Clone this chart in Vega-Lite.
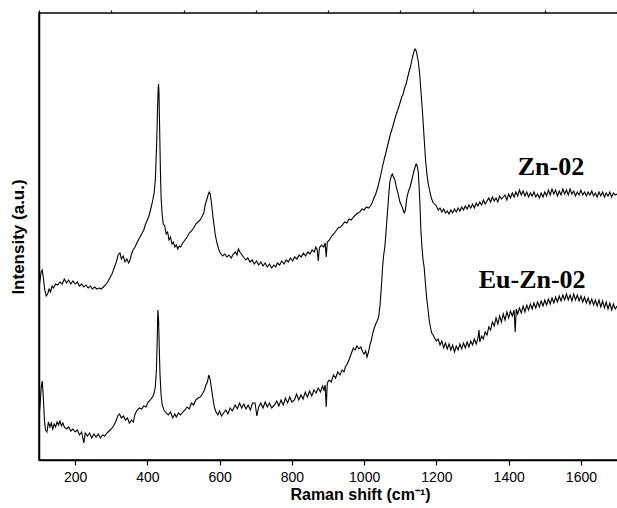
{
"$schema": "https://vega.github.io/schema/vega-lite/v6.json",
"width": 642, "height": 447,
"autosize": {"type": "none"},
"padding": {"left": 39, "top": 13, "right": 0, "bottom": 48},
"background": "white",
"config": {"view": {"stroke": "black", "strokeWidth": 1.5}},
"datasets": {
"spectra": [
{"s":"Zn-02","x":100,"y":173},{"s":"Zn-02","x":103,"y":180},{"s":"Zn-02","x":106,"y":188},{"s":"Zn-02","x":109,"y":190},{"s":"Zn-02","x":112,"y":182},{"s":"Zn-02","x":116,"y":170},{"s":"Zn-02","x":120,"y":164},{"s":"Zn-02","x":124,"y":166},{"s":"Zn-02","x":128,"y":171},{"s":"Zn-02","x":132,"y":168},{"s":"Zn-02","x":136,"y":174},{"s":"Zn-02","x":140,"y":172},{"s":"Zn-02","x":146,"y":176},{"s":"Zn-02","x":152,"y":175},{"s":"Zn-02","x":158,"y":178},{"s":"Zn-02","x":164,"y":176},{"s":"Zn-02","x":170,"y":181},{"s":"Zn-02","x":176,"y":177},{"s":"Zn-02","x":182,"y":180},{"s":"Zn-02","x":188,"y":176},{"s":"Zn-02","x":194,"y":179},{"s":"Zn-02","x":200,"y":176},{"s":"Zn-02","x":206,"y":178},{"s":"Zn-02","x":212,"y":174},{"s":"Zn-02","x":218,"y":176},{"s":"Zn-02","x":224,"y":173},{"s":"Zn-02","x":230,"y":175},{"s":"Zn-02","x":236,"y":172},{"s":"Zn-02","x":242,"y":174},{"s":"Zn-02","x":248,"y":171},{"s":"Zn-02","x":254,"y":173},{"s":"Zn-02","x":260,"y":171},{"s":"Zn-02","x":266,"y":172},{"s":"Zn-02","x":272,"y":171},{"s":"Zn-02","x":278,"y":173},{"s":"Zn-02","x":284,"y":175},{"s":"Zn-02","x":290,"y":178},{"s":"Zn-02","x":296,"y":182},{"s":"Zn-02","x":302,"y":186},{"s":"Zn-02","x":308,"y":192},{"s":"Zn-02","x":314,"y":198},{"s":"Zn-02","x":319,"y":205},{"s":"Zn-02","x":324,"y":207},{"s":"Zn-02","x":328,"y":201},{"s":"Zn-02","x":333,"y":204},{"s":"Zn-02","x":338,"y":198},{"s":"Zn-02","x":343,"y":201},{"s":"Zn-02","x":348,"y":197},{"s":"Zn-02","x":352,"y":200},{"s":"Zn-02","x":356,"y":206},{"s":"Zn-02","x":360,"y":210},{"s":"Zn-02","x":366,"y":213},{"s":"Zn-02","x":372,"y":218},{"s":"Zn-02","x":378,"y":222},{"s":"Zn-02","x":384,"y":226},{"s":"Zn-02","x":390,"y":230},{"s":"Zn-02","x":395,"y":236},{"s":"Zn-02","x":400,"y":240},{"s":"Zn-02","x":405,"y":245},{"s":"Zn-02","x":410,"y":252},{"s":"Zn-02","x":415,"y":260},{"s":"Zn-02","x":419,"y":268},{"s":"Zn-02","x":422,"y":280},{"s":"Zn-02","x":424,"y":300},{"s":"Zn-02","x":426,"y":320},{"s":"Zn-02","x":428,"y":350},{"s":"Zn-02","x":430,"y":372},{"s":"Zn-02","x":431,"y":376},{"s":"Zn-02","x":432,"y":368},{"s":"Zn-02","x":434,"y":330},{"s":"Zn-02","x":436,"y":290},{"s":"Zn-02","x":438,"y":262},{"s":"Zn-02","x":441,"y":245},{"s":"Zn-02","x":444,"y":236},{"s":"Zn-02","x":448,"y":234},{"s":"Zn-02","x":452,"y":226},{"s":"Zn-02","x":456,"y":228},{"s":"Zn-02","x":460,"y":220},{"s":"Zn-02","x":464,"y":223},{"s":"Zn-02","x":468,"y":216},{"s":"Zn-02","x":472,"y":218},{"s":"Zn-02","x":476,"y":213},{"s":"Zn-02","x":480,"y":215},{"s":"Zn-02","x":484,"y":211},{"s":"Zn-02","x":488,"y":214},{"s":"Zn-02","x":492,"y":213},{"s":"Zn-02","x":498,"y":217},{"s":"Zn-02","x":504,"y":220},{"s":"Zn-02","x":510,"y":223},{"s":"Zn-02","x":516,"y":227},{"s":"Zn-02","x":522,"y":229},{"s":"Zn-02","x":528,"y":232},{"s":"Zn-02","x":534,"y":236},{"s":"Zn-02","x":540,"y":238},{"s":"Zn-02","x":546,"y":240},{"s":"Zn-02","x":552,"y":244},{"s":"Zn-02","x":556,"y":247},{"s":"Zn-02","x":560,"y":255},{"s":"Zn-02","x":564,"y":260},{"s":"Zn-02","x":568,"y":265},{"s":"Zn-02","x":571,"y":268},{"s":"Zn-02","x":574,"y":266},{"s":"Zn-02","x":577,"y":258},{"s":"Zn-02","x":580,"y":248},{"s":"Zn-02","x":584,"y":236},{"s":"Zn-02","x":588,"y":225},{"s":"Zn-02","x":592,"y":218},{"s":"Zn-02","x":597,"y":211},{"s":"Zn-02","x":602,"y":207},{"s":"Zn-02","x":608,"y":204},{"s":"Zn-02","x":614,"y":206},{"s":"Zn-02","x":620,"y":203},{"s":"Zn-02","x":626,"y":205},{"s":"Zn-02","x":632,"y":202},{"s":"Zn-02","x":638,"y":206},{"s":"Zn-02","x":644,"y":208},{"s":"Zn-02","x":648,"y":205},{"s":"Zn-02","x":652,"y":211},{"s":"Zn-02","x":656,"y":208},{"s":"Zn-02","x":660,"y":206},{"s":"Zn-02","x":666,"y":203},{"s":"Zn-02","x":672,"y":200},{"s":"Zn-02","x":678,"y":202},{"s":"Zn-02","x":684,"y":198},{"s":"Zn-02","x":690,"y":200},{"s":"Zn-02","x":696,"y":196},{"s":"Zn-02","x":702,"y":199},{"s":"Zn-02","x":708,"y":195},{"s":"Zn-02","x":714,"y":198},{"s":"Zn-02","x":720,"y":194},{"s":"Zn-02","x":726,"y":197},{"s":"Zn-02","x":732,"y":193},{"s":"Zn-02","x":738,"y":196},{"s":"Zn-02","x":744,"y":192},{"s":"Zn-02","x":750,"y":195},{"s":"Zn-02","x":755,"y":193},{"s":"Zn-02","x":760,"y":197},{"s":"Zn-02","x":766,"y":195},{"s":"Zn-02","x":772,"y":199},{"s":"Zn-02","x":778,"y":196},{"s":"Zn-02","x":784,"y":200},{"s":"Zn-02","x":790,"y":198},{"s":"Zn-02","x":796,"y":202},{"s":"Zn-02","x":802,"y":199},{"s":"Zn-02","x":808,"y":203},{"s":"Zn-02","x":814,"y":201},{"s":"Zn-02","x":820,"y":205},{"s":"Zn-02","x":826,"y":203},{"s":"Zn-02","x":832,"y":207},{"s":"Zn-02","x":838,"y":204},{"s":"Zn-02","x":844,"y":208},{"s":"Zn-02","x":850,"y":206},{"s":"Zn-02","x":856,"y":210},{"s":"Zn-02","x":862,"y":208},{"s":"Zn-02","x":866,"y":213},{"s":"Zn-02","x":870,"y":210},{"s":"Zn-02","x":873,"y":199},{"s":"Zn-02","x":876,"y":212},{"s":"Zn-02","x":882,"y":215},{"s":"Zn-02","x":888,"y":213},{"s":"Zn-02","x":892,"y":217},{"s":"Zn-02","x":895,"y":203},{"s":"Zn-02","x":898,"y":218},{"s":"Zn-02","x":904,"y":220},{"s":"Zn-02","x":910,"y":224},{"s":"Zn-02","x":916,"y":226},{"s":"Zn-02","x":922,"y":229},{"s":"Zn-02","x":928,"y":232},{"s":"Zn-02","x":934,"y":233},{"s":"Zn-02","x":940,"y":235},{"s":"Zn-02","x":946,"y":238},{"s":"Zn-02","x":952,"y":237},{"s":"Zn-02","x":958,"y":241},{"s":"Zn-02","x":964,"y":240},{"s":"Zn-02","x":970,"y":243},{"s":"Zn-02","x":976,"y":245},{"s":"Zn-02","x":982,"y":247},{"s":"Zn-02","x":988,"y":248},{"s":"Zn-02","x":994,"y":251},{"s":"Zn-02","x":1000,"y":250},{"s":"Zn-02","x":1006,"y":253},{"s":"Zn-02","x":1012,"y":252},{"s":"Zn-02","x":1017,"y":254},{"s":"Zn-02","x":1022,"y":257},{"s":"Zn-02","x":1027,"y":262},{"s":"Zn-02","x":1032,"y":266},{"s":"Zn-02","x":1038,"y":273},{"s":"Zn-02","x":1044,"y":282},{"s":"Zn-02","x":1050,"y":292},{"s":"Zn-02","x":1055,"y":300},{"s":"Zn-02","x":1060,"y":307},{"s":"Zn-02","x":1066,"y":316},{"s":"Zn-02","x":1072,"y":325},{"s":"Zn-02","x":1078,"y":332},{"s":"Zn-02","x":1082,"y":337},{"s":"Zn-02","x":1088,"y":345},{"s":"Zn-02","x":1094,"y":351},{"s":"Zn-02","x":1100,"y":358},{"s":"Zn-02","x":1104,"y":363},{"s":"Zn-02","x":1108,"y":366},{"s":"Zn-02","x":1112,"y":372},{"s":"Zn-02","x":1116,"y":376},{"s":"Zn-02","x":1120,"y":382},{"s":"Zn-02","x":1124,"y":388},{"s":"Zn-02","x":1128,"y":393},{"s":"Zn-02","x":1132,"y":400},{"s":"Zn-02","x":1136,"y":406},{"s":"Zn-02","x":1139,"y":410},{"s":"Zn-02","x":1141,"y":411},{"s":"Zn-02","x":1144,"y":409},{"s":"Zn-02","x":1147,"y":404},{"s":"Zn-02","x":1150,"y":398},{"s":"Zn-02","x":1154,"y":385},{"s":"Zn-02","x":1158,"y":365},{"s":"Zn-02","x":1162,"y":345},{"s":"Zn-02","x":1166,"y":322},{"s":"Zn-02","x":1170,"y":300},{"s":"Zn-02","x":1174,"y":285},{"s":"Zn-02","x":1178,"y":275},{"s":"Zn-02","x":1182,"y":268},{"s":"Zn-02","x":1186,"y":262},{"s":"Zn-02","x":1190,"y":258},
{"s":"Zn-02","x":1195,"y":256},{"s":"Zn-02","x":1200,"y":254},{"s":"Zn-02","x":1205,"y":250},{"s":"Zn-02","x":1210,"y":252},{"s":"Zn-02","x":1215,"y":248},{"s":"Zn-02","x":1220,"y":251},{"s":"Zn-02","x":1225,"y":247},{"s":"Zn-02","x":1230,"y":249},{"s":"Zn-02","x":1235,"y":246},{"s":"Zn-02","x":1240,"y":250},{"s":"Zn-02","x":1245,"y":247},{"s":"Zn-02","x":1250,"y":251},{"s":"Zn-02","x":1255,"y":248},{"s":"Zn-02","x":1260,"y":252},{"s":"Zn-02","x":1265,"y":249},{"s":"Zn-02","x":1270,"y":253},{"s":"Zn-02","x":1275,"y":250},{"s":"Zn-02","x":1280,"y":254},{"s":"Zn-02","x":1285,"y":251},{"s":"Zn-02","x":1290,"y":255},{"s":"Zn-02","x":1295,"y":252},{"s":"Zn-02","x":1300,"y":256},{"s":"Zn-02","x":1305,"y":252},{"s":"Zn-02","x":1310,"y":257},{"s":"Zn-02","x":1315,"y":254},{"s":"Zn-02","x":1320,"y":258},{"s":"Zn-02","x":1325,"y":255},{"s":"Zn-02","x":1330,"y":260},{"s":"Zn-02","x":1335,"y":256},{"s":"Zn-02","x":1340,"y":259},{"s":"Zn-02","x":1345,"y":262},{"s":"Zn-02","x":1350,"y":258},{"s":"Zn-02","x":1355,"y":263},{"s":"Zn-02","x":1360,"y":259},{"s":"Zn-02","x":1365,"y":262},{"s":"Zn-02","x":1370,"y":258},{"s":"Zn-02","x":1375,"y":264},{"s":"Zn-02","x":1380,"y":261},{"s":"Zn-02","x":1390,"y":265},{"s":"Zn-02","x":1395,"y":260},{"s":"Zn-02","x":1400,"y":266},{"s":"Zn-02","x":1405,"y":262},{"s":"Zn-02","x":1410,"y":267},{"s":"Zn-02","x":1415,"y":263},{"s":"Zn-02","x":1420,"y":268},{"s":"Zn-02","x":1425,"y":264},{"s":"Zn-02","x":1430,"y":270},{"s":"Zn-02","x":1435,"y":265},{"s":"Zn-02","x":1440,"y":269},{"s":"Zn-02","x":1445,"y":264},{"s":"Zn-02","x":1450,"y":268},{"s":"Zn-02","x":1455,"y":263},{"s":"Zn-02","x":1460,"y":267},{"s":"Zn-02","x":1465,"y":264},{"s":"Zn-02","x":1470,"y":268},{"s":"Zn-02","x":1475,"y":263},{"s":"Zn-02","x":1480,"y":266},{"s":"Zn-02","x":1485,"y":262},{"s":"Zn-02","x":1490,"y":267},{"s":"Zn-02","x":1495,"y":263},{"s":"Zn-02","x":1500,"y":268},{"s":"Zn-02","x":1505,"y":264},{"s":"Zn-02","x":1510,"y":270},{"s":"Zn-02","x":1515,"y":265},{"s":"Zn-02","x":1520,"y":271},{"s":"Zn-02","x":1525,"y":266},{"s":"Zn-02","x":1530,"y":270},{"s":"Zn-02","x":1535,"y":264},{"s":"Zn-02","x":1540,"y":269},{"s":"Zn-02","x":1545,"y":265},{"s":"Zn-02","x":1550,"y":271},{"s":"Zn-02","x":1555,"y":266},{"s":"Zn-02","x":1560,"y":270},{"s":"Zn-02","x":1565,"y":265},{"s":"Zn-02","x":1570,"y":271},{"s":"Zn-02","x":1575,"y":266},{"s":"Zn-02","x":1580,"y":269},{"s":"Zn-02","x":1585,"y":264},{"s":"Zn-02","x":1590,"y":268},{"s":"Zn-02","x":1595,"y":265},{"s":"Zn-02","x":1600,"y":270},{"s":"Zn-02","x":1605,"y":265},{"s":"Zn-02","x":1610,"y":268},{"s":"Zn-02","x":1615,"y":264},{"s":"Zn-02","x":1620,"y":268},{"s":"Zn-02","x":1625,"y":265},{"s":"Zn-02","x":1630,"y":269},{"s":"Zn-02","x":1635,"y":264},{"s":"Zn-02","x":1640,"y":267},{"s":"Zn-02","x":1645,"y":263},{"s":"Zn-02","x":1650,"y":268},{"s":"Zn-02","x":1655,"y":264},{"s":"Zn-02","x":1660,"y":268},{"s":"Zn-02","x":1665,"y":263},{"s":"Zn-02","x":1670,"y":267},{"s":"Zn-02","x":1675,"y":264},{"s":"Zn-02","x":1680,"y":268},{"s":"Zn-02","x":1685,"y":263},{"s":"Zn-02","x":1690,"y":267},{"s":"Zn-02","x":1695,"y":265},{"s":"Zn-02","x":1700,"y":266},
{"s":"Eu-Zn-02","x":100,"y":43},{"s":"Eu-Zn-02","x":103,"y":55},{"s":"Eu-Zn-02","x":106,"y":72},{"s":"Eu-Zn-02","x":109,"y":79},{"s":"Eu-Zn-02","x":112,"y":62},{"s":"Eu-Zn-02","x":115,"y":40},{"s":"Eu-Zn-02","x":118,"y":30},{"s":"Eu-Zn-02","x":122,"y":28},{"s":"Eu-Zn-02","x":126,"y":38},{"s":"Eu-Zn-02","x":130,"y":33},{"s":"Eu-Zn-02","x":134,"y":37},{"s":"Eu-Zn-02","x":138,"y":31},{"s":"Eu-Zn-02","x":142,"y":36},{"s":"Eu-Zn-02","x":146,"y":33},{"s":"Eu-Zn-02","x":150,"y":38},{"s":"Eu-Zn-02","x":154,"y":35},{"s":"Eu-Zn-02","x":158,"y":39},{"s":"Eu-Zn-02","x":162,"y":34},{"s":"Eu-Zn-02","x":166,"y":37},{"s":"Eu-Zn-02","x":170,"y":33},{"s":"Eu-Zn-02","x":176,"y":31},{"s":"Eu-Zn-02","x":182,"y":33},{"s":"Eu-Zn-02","x":188,"y":29},{"s":"Eu-Zn-02","x":194,"y":31},{"s":"Eu-Zn-02","x":200,"y":28},{"s":"Eu-Zn-02","x":206,"y":30},{"s":"Eu-Zn-02","x":212,"y":25},{"s":"Eu-Zn-02","x":218,"y":28},{"s":"Eu-Zn-02","x":224,"y":17},{"s":"Eu-Zn-02","x":228,"y":27},{"s":"Eu-Zn-02","x":234,"y":24},{"s":"Eu-Zn-02","x":240,"y":27},{"s":"Eu-Zn-02","x":246,"y":22},{"s":"Eu-Zn-02","x":252,"y":26},{"s":"Eu-Zn-02","x":258,"y":23},{"s":"Eu-Zn-02","x":264,"y":26},{"s":"Eu-Zn-02","x":270,"y":22},{"s":"Eu-Zn-02","x":276,"y":25},{"s":"Eu-Zn-02","x":282,"y":24},{"s":"Eu-Zn-02","x":288,"y":27},{"s":"Eu-Zn-02","x":294,"y":29},{"s":"Eu-Zn-02","x":300,"y":31},{"s":"Eu-Zn-02","x":306,"y":34},{"s":"Eu-Zn-02","x":312,"y":38},{"s":"Eu-Zn-02","x":318,"y":44},{"s":"Eu-Zn-02","x":323,"y":46},{"s":"Eu-Zn-02","x":328,"y":42},{"s":"Eu-Zn-02","x":334,"y":44},{"s":"Eu-Zn-02","x":339,"y":40},{"s":"Eu-Zn-02","x":345,"y":42},{"s":"Eu-Zn-02","x":350,"y":37},{"s":"Eu-Zn-02","x":356,"y":40},{"s":"Eu-Zn-02","x":361,"y":38},{"s":"Eu-Zn-02","x":366,"y":46},{"s":"Eu-Zn-02","x":372,"y":50},{"s":"Eu-Zn-02","x":378,"y":52},{"s":"Eu-Zn-02","x":384,"y":51},{"s":"Eu-Zn-02","x":390,"y":54},{"s":"Eu-Zn-02","x":396,"y":53},{"s":"Eu-Zn-02","x":402,"y":58},{"s":"Eu-Zn-02","x":408,"y":60},{"s":"Eu-Zn-02","x":414,"y":63},{"s":"Eu-Zn-02","x":418,"y":66},{"s":"Eu-Zn-02","x":422,"y":73},{"s":"Eu-Zn-02","x":425,"y":90},{"s":"Eu-Zn-02","x":427,"y":118},{"s":"Eu-Zn-02","x":429,"y":150},{"s":"Eu-Zn-02","x":431,"y":140},{"s":"Eu-Zn-02","x":433,"y":110},{"s":"Eu-Zn-02","x":435,"y":85},{"s":"Eu-Zn-02","x":438,"y":65},{"s":"Eu-Zn-02","x":441,"y":55},{"s":"Eu-Zn-02","x":446,"y":50},{"s":"Eu-Zn-02","x":452,"y":47},{"s":"Eu-Zn-02","x":458,"y":45},{"s":"Eu-Zn-02","x":464,"y":48},{"s":"Eu-Zn-02","x":470,"y":42},{"s":"Eu-Zn-02","x":476,"y":46},{"s":"Eu-Zn-02","x":480,"y":43},{"s":"Eu-Zn-02","x":486,"y":47},{"s":"Eu-Zn-02","x":492,"y":45},{"s":"Eu-Zn-02","x":498,"y":48},{"s":"Eu-Zn-02","x":504,"y":50},{"s":"Eu-Zn-02","x":510,"y":53},{"s":"Eu-Zn-02","x":516,"y":51},{"s":"Eu-Zn-02","x":522,"y":57},{"s":"Eu-Zn-02","x":528,"y":55},{"s":"Eu-Zn-02","x":534,"y":60},{"s":"Eu-Zn-02","x":540,"y":62},{"s":"Eu-Zn-02","x":546,"y":63},{"s":"Eu-Zn-02","x":552,"y":66},{"s":"Eu-Zn-02","x":558,"y":70},{"s":"Eu-Zn-02","x":562,"y":75},{"s":"Eu-Zn-02","x":566,"y":78},{"s":"Eu-Zn-02","x":570,"y":85},{"s":"Eu-Zn-02","x":574,"y":80},{"s":"Eu-Zn-02","x":578,"y":70},{"s":"Eu-Zn-02","x":582,"y":60},{"s":"Eu-Zn-02","x":586,"y":52},{"s":"Eu-Zn-02","x":590,"y":48},{"s":"Eu-Zn-02","x":595,"y":45},{"s":"Eu-Zn-02","x":600,"y":49},{"s":"Eu-Zn-02","x":605,"y":44},{"s":"Eu-Zn-02","x":611,"y":47},{"s":"Eu-Zn-02","x":617,"y":50},{"s":"Eu-Zn-02","x":623,"y":46},{"s":"Eu-Zn-02","x":629,"y":52},{"s":"Eu-Zn-02","x":635,"y":49},{"s":"Eu-Zn-02","x":643,"y":55},{"s":"Eu-Zn-02","x":649,"y":51},{"s":"Eu-Zn-02","x":655,"y":57},{"s":"Eu-Zn-02","x":661,"y":52},{"s":"Eu-Zn-02","x":667,"y":56},{"s":"Eu-Zn-02","x":673,"y":51},{"s":"Eu-Zn-02","x":679,"y":55},{"s":"Eu-Zn-02","x":685,"y":50},{"s":"Eu-Zn-02","x":691,"y":57},{"s":"Eu-Zn-02","x":698,"y":57},{"s":"Eu-Zn-02","x":703,"y":44},{"s":"Eu-Zn-02","x":708,"y":53},{"s":"Eu-Zn-02","x":714,"y":57},{"s":"Eu-Zn-02","x":720,"y":52},{"s":"Eu-Zn-02","x":726,"y":58},{"s":"Eu-Zn-02","x":732,"y":53},{"s":"Eu-Zn-02","x":738,"y":57},{"s":"Eu-Zn-02","x":744,"y":52},{"s":"Eu-Zn-02","x":752,"y":55},{"s":"Eu-Zn-02","x":758,"y":59},{"s":"Eu-Zn-02","x":764,"y":54},{"s":"Eu-Zn-02","x":770,"y":60},{"s":"Eu-Zn-02","x":776,"y":55},{"s":"Eu-Zn-02","x":782,"y":62},{"s":"Eu-Zn-02","x":788,"y":57},{"s":"Eu-Zn-02","x":794,"y":63},{"s":"Eu-Zn-02","x":800,"y":58},{"s":"Eu-Zn-02","x":807,"y":60},{"s":"Eu-Zn-02","x":813,"y":66},{"s":"Eu-Zn-02","x":819,"y":60},{"s":"Eu-Zn-02","x":825,"y":65},{"s":"Eu-Zn-02","x":831,"y":61},{"s":"Eu-Zn-02","x":837,"y":68},{"s":"Eu-Zn-02","x":843,"y":63},{"s":"Eu-Zn-02","x":849,"y":69},{"s":"Eu-Zn-02","x":855,"y":64},{"s":"Eu-Zn-02","x":861,"y":70},{"s":"Eu-Zn-02","x":867,"y":67},{"s":"Eu-Zn-02","x":873,"y":72},{"s":"Eu-Zn-02","x":879,"y":68},{"s":"Eu-Zn-02","x":885,"y":74},{"s":"Eu-Zn-02","x":889,"y":70},{"s":"Eu-Zn-02","x":892,"y":75},{"s":"Eu-Zn-02","x":895,"y":53},{"s":"Eu-Zn-02","x":898,"y":77},{"s":"Eu-Zn-02","x":903,"y":80},{"s":"Eu-Zn-02","x":909,"y":78},{"s":"Eu-Zn-02","x":915,"y":85},{"s":"Eu-Zn-02","x":921,"y":82},{"s":"Eu-Zn-02","x":927,"y":88},{"s":"Eu-Zn-02","x":933,"y":85},{"s":"Eu-Zn-02","x":939,"y":90},{"s":"Eu-Zn-02","x":944,"y":88},{"s":"Eu-Zn-02","x":948,"y":93},{"s":"Eu-Zn-02","x":953,"y":96},{"s":"Eu-Zn-02","x":958,"y":100},{"s":"Eu-Zn-02","x":962,"y":104},{"s":"Eu-Zn-02","x":966,"y":108},{"s":"Eu-Zn-02","x":970,"y":112},{"s":"Eu-Zn-02","x":975,"y":110},{"s":"Eu-Zn-02","x":980,"y":114},{"s":"Eu-Zn-02","x":985,"y":111},{"s":"Eu-Zn-02","x":991,"y":113},{"s":"Eu-Zn-02","x":996,"y":108},{"s":"Eu-Zn-02","x":1000,"y":106},{"s":"Eu-Zn-02","x":1004,"y":109},{"s":"Eu-Zn-02","x":1008,"y":103},{"s":"Eu-Zn-02","x":1012,"y":108},{"s":"Eu-Zn-02","x":1016,"y":115},{"s":"Eu-Zn-02","x":1020,"y":120},{"s":"Eu-Zn-02","x":1024,"y":127},{"s":"Eu-Zn-02","x":1028,"y":132},{"s":"Eu-Zn-02","x":1032,"y":136},{"s":"Eu-Zn-02","x":1036,"y":139},{"s":"Eu-Zn-02","x":1040,"y":143},{"s":"Eu-Zn-02","x":1044,"y":155},{"s":"Eu-Zn-02","x":1048,"y":175},{"s":"Eu-Zn-02","x":1051,"y":193},{"s":"Eu-Zn-02","x":1054,"y":205},{"s":"Eu-Zn-02","x":1057,"y":212},{"s":"Eu-Zn-02","x":1062,"y":235},{"s":"Eu-Zn-02","x":1067,"y":260},{"s":"Eu-Zn-02","x":1071,"y":278},{"s":"Eu-Zn-02","x":1075,"y":284},{"s":"Eu-Zn-02","x":1078,"y":286},{"s":"Eu-Zn-02","x":1081,"y":283},{"s":"Eu-Zn-02","x":1085,"y":280},{"s":"Eu-Zn-02","x":1089,"y":273},{"s":"Eu-Zn-02","x":1094,"y":266},{"s":"Eu-Zn-02","x":1099,"y":258},{"s":"Eu-Zn-02","x":1104,"y":254},{"s":"Eu-Zn-02","x":1108,"y":250},{"s":"Eu-Zn-02","x":1111,"y":247},{"s":"Eu-Zn-02","x":1114,"y":250},{"s":"Eu-Zn-02","x":1118,"y":262},{"s":"Eu-Zn-02","x":1122,"y":268},{"s":"Eu-Zn-02","x":1127,"y":273},{"s":"Eu-Zn-02","x":1132,"y":280},{"s":"Eu-Zn-02","x":1137,"y":288},{"s":"Eu-Zn-02","x":1141,"y":293},{"s":"Eu-Zn-02","x":1144,"y":296},{"s":"Eu-Zn-02","x":1147,"y":294},{"s":"Eu-Zn-02","x":1150,"y":287},{"s":"Eu-Zn-02","x":1154,"y":260},{"s":"Eu-Zn-02","x":1157,"y":230},{"s":"Eu-Zn-02","x":1160,"y":213},{"s":"Eu-Zn-02","x":1163,"y":200},{"s":"Eu-Zn-02","x":1166,"y":193},{"s":"Eu-Zn-02","x":1170,"y":175},{"s":"Eu-Zn-02","x":1173,"y":162},{"s":"Eu-Zn-02","x":1176,"y":153},{"s":"Eu-Zn-02","x":1180,"y":140},{"s":"Eu-Zn-02","x":1184,"y":132},{"s":"Eu-Zn-02","x":1187,"y":127},{"s":"Eu-Zn-02","x":1191,"y":125},{"s":"Eu-Zn-02","x":1195,"y":122},{"s":"Eu-Zn-02","x":1200,"y":119},{"s":"Eu-Zn-02","x":1205,"y":121},
{"s":"Eu-Zn-02","x":1210,"y":115},{"s":"Eu-Zn-02","x":1215,"y":119},{"s":"Eu-Zn-02","x":1220,"y":112},{"s":"Eu-Zn-02","x":1225,"y":117},{"s":"Eu-Zn-02","x":1230,"y":111},{"s":"Eu-Zn-02","x":1235,"y":116},{"s":"Eu-Zn-02","x":1240,"y":110},{"s":"Eu-Zn-02","x":1245,"y":115},{"s":"Eu-Zn-02","x":1250,"y":108},{"s":"Eu-Zn-02","x":1255,"y":114},{"s":"Eu-Zn-02","x":1260,"y":110},{"s":"Eu-Zn-02","x":1265,"y":116},{"s":"Eu-Zn-02","x":1270,"y":111},{"s":"Eu-Zn-02","x":1275,"y":117},{"s":"Eu-Zn-02","x":1280,"y":112},{"s":"Eu-Zn-02","x":1285,"y":118},{"s":"Eu-Zn-02","x":1290,"y":113},{"s":"Eu-Zn-02","x":1295,"y":119},{"s":"Eu-Zn-02","x":1300,"y":115},{"s":"Eu-Zn-02","x":1305,"y":121},{"s":"Eu-Zn-02","x":1310,"y":116},{"s":"Eu-Zn-02","x":1315,"y":122},{"s":"Eu-Zn-02","x":1318,"y":130},{"s":"Eu-Zn-02","x":1320,"y":118},{"s":"Eu-Zn-02","x":1325,"y":124},{"s":"Eu-Zn-02","x":1330,"y":121},{"s":"Eu-Zn-02","x":1335,"y":128},{"s":"Eu-Zn-02","x":1340,"y":125},{"s":"Eu-Zn-02","x":1345,"y":133},{"s":"Eu-Zn-02","x":1350,"y":130},{"s":"Eu-Zn-02","x":1355,"y":138},{"s":"Eu-Zn-02","x":1360,"y":134},{"s":"Eu-Zn-02","x":1365,"y":142},{"s":"Eu-Zn-02","x":1370,"y":136},{"s":"Eu-Zn-02","x":1375,"y":144},{"s":"Eu-Zn-02","x":1380,"y":138},{"s":"Eu-Zn-02","x":1385,"y":146},{"s":"Eu-Zn-02","x":1390,"y":140},{"s":"Eu-Zn-02","x":1395,"y":148},{"s":"Eu-Zn-02","x":1400,"y":142},{"s":"Eu-Zn-02","x":1405,"y":149},{"s":"Eu-Zn-02","x":1410,"y":144},{"s":"Eu-Zn-02","x":1415,"y":150},{"s":"Eu-Zn-02","x":1418,"y":128},{"s":"Eu-Zn-02","x":1421,"y":151},{"s":"Eu-Zn-02","x":1425,"y":146},{"s":"Eu-Zn-02","x":1430,"y":152},{"s":"Eu-Zn-02","x":1435,"y":147},{"s":"Eu-Zn-02","x":1440,"y":154},{"s":"Eu-Zn-02","x":1445,"y":148},{"s":"Eu-Zn-02","x":1450,"y":155},{"s":"Eu-Zn-02","x":1455,"y":150},{"s":"Eu-Zn-02","x":1460,"y":156},{"s":"Eu-Zn-02","x":1465,"y":151},{"s":"Eu-Zn-02","x":1470,"y":157},{"s":"Eu-Zn-02","x":1475,"y":152},{"s":"Eu-Zn-02","x":1480,"y":158},{"s":"Eu-Zn-02","x":1485,"y":153},{"s":"Eu-Zn-02","x":1490,"y":159},{"s":"Eu-Zn-02","x":1495,"y":154},{"s":"Eu-Zn-02","x":1500,"y":160},{"s":"Eu-Zn-02","x":1505,"y":155},{"s":"Eu-Zn-02","x":1510,"y":161},{"s":"Eu-Zn-02","x":1515,"y":156},{"s":"Eu-Zn-02","x":1520,"y":162},{"s":"Eu-Zn-02","x":1525,"y":157},{"s":"Eu-Zn-02","x":1530,"y":163},{"s":"Eu-Zn-02","x":1535,"y":158},{"s":"Eu-Zn-02","x":1540,"y":164},{"s":"Eu-Zn-02","x":1545,"y":159},{"s":"Eu-Zn-02","x":1550,"y":165},{"s":"Eu-Zn-02","x":1555,"y":160},{"s":"Eu-Zn-02","x":1560,"y":166},{"s":"Eu-Zn-02","x":1565,"y":160},{"s":"Eu-Zn-02","x":1570,"y":165},{"s":"Eu-Zn-02","x":1575,"y":159},{"s":"Eu-Zn-02","x":1580,"y":166},{"s":"Eu-Zn-02","x":1585,"y":160},{"s":"Eu-Zn-02","x":1590,"y":165},{"s":"Eu-Zn-02","x":1595,"y":159},{"s":"Eu-Zn-02","x":1600,"y":164},{"s":"Eu-Zn-02","x":1605,"y":158},{"s":"Eu-Zn-02","x":1610,"y":163},{"s":"Eu-Zn-02","x":1615,"y":157},{"s":"Eu-Zn-02","x":1620,"y":162},{"s":"Eu-Zn-02","x":1625,"y":156},{"s":"Eu-Zn-02","x":1630,"y":161},{"s":"Eu-Zn-02","x":1635,"y":155},{"s":"Eu-Zn-02","x":1640,"y":160},{"s":"Eu-Zn-02","x":1645,"y":154},{"s":"Eu-Zn-02","x":1650,"y":160},{"s":"Eu-Zn-02","x":1655,"y":153},{"s":"Eu-Zn-02","x":1660,"y":159},{"s":"Eu-Zn-02","x":1665,"y":152},{"s":"Eu-Zn-02","x":1670,"y":158},{"s":"Eu-Zn-02","x":1675,"y":151},{"s":"Eu-Zn-02","x":1680,"y":157},{"s":"Eu-Zn-02","x":1685,"y":150},{"s":"Eu-Zn-02","x":1690,"y":156},{"s":"Eu-Zn-02","x":1695,"y":151},{"s":"Eu-Zn-02","x":1700,"y":154}
],
"labels": [
{"t":"Zn-02","x":1517,"y":293},
{"t":"Eu-Zn-02","x":1465,"y":180}
]
},
"layer": [
{
"data": {"name": "spectra"},
"mark": {"type": "line", "color": "black", "strokeWidth": 1.1, "clip": true},
"encoding": {
"x": {"field": "x", "type": "quantitative",
"scale": {"domain": [100, 1877], "nice": false, "zero": false},
"axis": {"values": [200,400,600,800,1000,1200,1400,1600], "format": "d",
"grid": false, "tickSize": 5, "tickColor": "black", "tickWidth": 1.2,
"domainColor": "black", "domainWidth": 1.5,
"labelFont": "Liberation Sans", "labelFontSize": 14, "labelColor": "black", "labelPadding": 5,
"title": "Raman shift (cm⁻¹)", "titleFont": "Liberation Sans", "titleFontSize": 16,
"titleFontWeight": "bold", "titleColor": "black", "titlePadding": 2}},
"y": {"field": "y", "type": "quantitative",
"scale": {"domain": [0, 447], "nice": false, "zero": false},
"axis": {"labels": false, "ticks": false, "grid": false, "domainColor": "black", "domainWidth": 1.5,
"title": "Intensity (a.u.)", "titleFont": "Liberation Sans", "titleFontSize": 17,
"titleFontWeight": "bold", "titleColor": "black", "titlePadding": 12}},
"detail": {"field": "s", "type": "nominal"}
}
},
{
"data": {"name": "labels"},
"mark": {"type": "text", "font": "Liberation Serif", "fontWeight": "bold", "fontSize": 26, "color": "black", "align": "center", "baseline": "middle"},
"encoding": {
"x": {"field": "x", "type": "quantitative",
"axis": {"values": [100,300,500,700,900,1100,1300,1500,1700], "labels": false, "domain": false,
"grid": false, "tickSize": 3, "tickColor": "black", "tickWidth": 1.2, "title": null}},
"y": {"field": "y", "type": "quantitative"},
"text": {"field": "t", "type": "nominal"}
}
}
],
"resolve": {"axis": {"x": "independent"}}
}
